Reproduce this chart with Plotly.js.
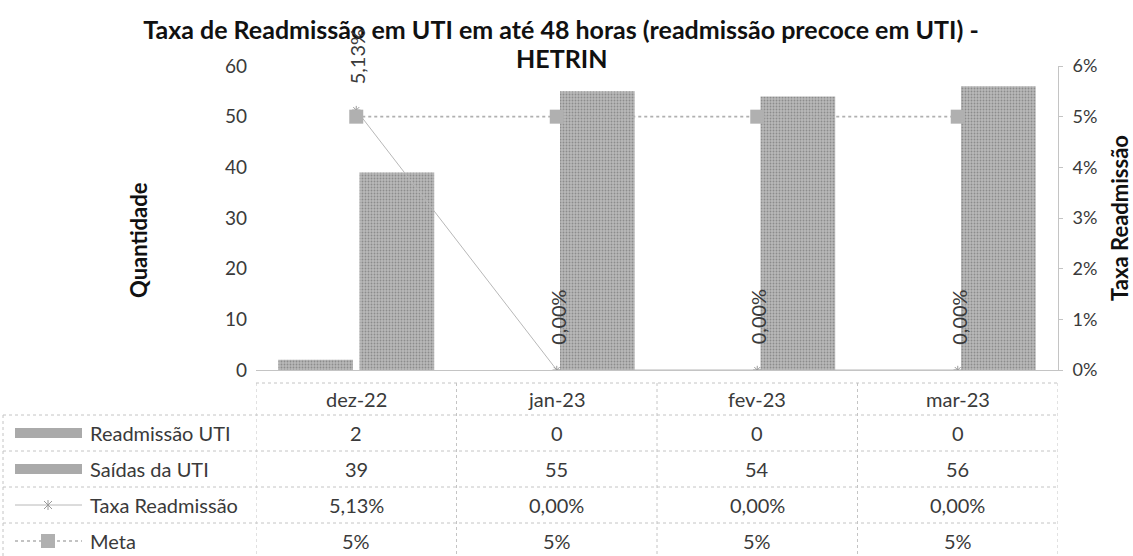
<!DOCTYPE html>
<html>
<head>
<meta charset="utf-8">
<script src="https://cdn.plot.ly/plotly-3.0.1.min.js"></script>
<style>
html,body{margin:0;padding:0;background:#fff;}
#chart{width:1133px;height:556px;}
</style>
</head>
<body>
<div id="chart"></div>
<script>
// ---- data ----
const categories = ['dez-22', 'jan-23', 'fev-23', 'mar-23'];
const readmissao = [2, 0, 0, 0];
const saidas = [39, 55, 54, 56];
const taxa = [0.0513, 0.0, 0.0, 0.0];
const meta = [0.05, 0.05, 0.05, 0.05];
const seriesNames = ['Readmissão UTI', 'Saídas da UTI', 'Taxa Readmissão', 'Meta'];
const leftTicks = [0, 10, 20, 30, 40, 50, 60];
const rightTicks = [0, 0.01, 0.02, 0.03, 0.04, 0.05, 0.06];
const rightTickText = ['0%', '1%', '2%', '3%', '4%', '5%', '6%'];
const titleLine1 = 'Taxa de Readmissão em UTI em até 48 horas (readmissão precoce em UTI) -';
const titleLine2 = 'HETRIN';
const leftTitle = 'Quantidade';
const rightTitle = 'Taxa Readmissão';

// ---- geometry helpers (layout only) ----
const W = 1133, H = 556;
const M = {l: 256, r: 75, t: 66, b: 186};
const PW = W - M.l - M.r, PH = H - M.t - M.b;
const px2x = p => (p - M.l) / PW;
const px2y = p => (H - M.b - p) / PH;

const FONT = 'Lato, "Open Sans", sans-serif';
const TXT = '#3a3a3a';
const GRIDC = '#c4c4c4';
const BARC = '#aaaaaa';

const pct2 = v => (v * 100).toFixed(2).replace('.', ',') + '%';
const pct0 = v => Math.round(v * 100) + '%';

const xs = categories.map((c, i) => i);

const barPattern = {shape: '.', fgcolor: '#8c8c8c', bgcolor: '#b9b9b9', size: 3, solidity: 0.3};

const traces = [
  {type: 'bar', name: seriesNames[0], x: xs, y: readmissao, yaxis: 'y',
   marker: {color: BARC, pattern: barPattern, line: {width: 0}}, hoverinfo: 'skip'},
  {type: 'bar', name: seriesNames[1], x: xs, y: saidas, yaxis: 'y',
   marker: {color: BARC, pattern: barPattern, line: {width: 0}}, hoverinfo: 'skip'},
  {type: 'scatter', mode: 'lines+markers', name: seriesNames[2], x: xs, y: taxa, yaxis: 'y2',
   line: {color: '#b8b8b8', width: 1}, marker: {symbol: 'asterisk-open', size: 7, color: '#9a9a9a', line: {color: '#9a9a9a', width: 1}},
   hoverinfo: 'skip'},
  {type: 'scatter', mode: 'lines+markers', name: seriesNames[3], x: xs, y: meta, yaxis: 'y2',
   line: {color: '#b0b0b0', width: 1.6, dash: 'dot'},
   marker: {symbol: 'square', size: 14, color: '#b0b0b0', line: {width: 0}},
   hoverinfo: 'skip'}
];

const annotations = [];
const shapes = [];

// data labels for Taxa (rotated)
taxa.forEach((v, i) => {
  annotations.push({x: i, y: v, xref: 'x', yref: 'y2', text: pct2(v), textangle: -90,
    showarrow: false, yshift: 53, xshift: 1, font: {family: FONT, size: 20, color: TXT}});
});

// ---- data table under chart ----
const rowTextY = [399, 433, 469, 505, 541];
const rowLineY = [415, 451, 487, 523];
const tableTop = 383, tableBottom = 556;
const cellFont = {family: FONT, size: 20, color: TXT};

categories.forEach((c, i) => {
  const cells = [c, String(readmissao[i]), String(saidas[i]), pct2(taxa[i]), pct0(meta[i])];
  cells.forEach((t, r) => {
    annotations.push({x: i, y: px2y(rowTextY[r]), xref: 'x', yref: 'paper', text: t, showarrow: false, font: cellFont, yanchor: 'middle'});
  });
});
seriesNames.forEach((n, k) => {
  annotations.push({x: px2x(88), y: px2y(rowTextY[k + 1]), xref: 'paper', yref: 'paper', text: n,
    showarrow: false, xanchor: 'left', yanchor: 'middle', font: cellFont});
});

const gridLine = {color: GRIDC, width: 1, dash: 'dot'};
for (let i = 0; i <= categories.length; i++) {
  shapes.push({type: 'line', xref: 'x', yref: 'paper', x0: i - 0.5, x1: i - 0.5,
    y0: px2y(tableTop), y1: px2y(tableBottom), line: gridLine});
}
shapes.push({type: 'line', xref: 'paper', yref: 'paper', x0: px2x(3), x1: px2x(3),
  y0: px2y(rowLineY[0]), y1: px2y(tableBottom), line: gridLine});
shapes.push({type: 'line', xref: 'paper', yref: 'paper', x0: 0, x1: 1, y0: px2y(tableTop), y1: px2y(tableTop), line: gridLine});
rowLineY.forEach(py => {
  shapes.push({type: 'line', xref: 'paper', yref: 'paper', x0: px2x(3), x1: 1, y0: px2y(py), y1: px2y(py), line: gridLine});
});

// legend keys in table
const keyX0 = 15, keyX1 = 82, keyC = 48;
[1, 2].forEach(r => {
  shapes.push({type: 'rect', xref: 'paper', yref: 'paper', x0: px2x(keyX0), x1: px2x(keyX1),
    y0: px2y(rowTextY[r] - 5), y1: px2y(rowTextY[r] + 5), fillcolor: BARC, line: {width: 0}});
});
const ty = rowTextY[3];
shapes.push({type: 'line', xref: 'paper', yref: 'paper', x0: px2x(keyX0), x1: px2x(keyX1), y0: px2y(ty), y1: px2y(ty), line: {color: '#b8b8b8', width: 1}});
const astPath = [
  `M ${px2x(keyC - 4)},${px2y(ty - 4)} L ${px2x(keyC + 4)},${px2y(ty + 4)}`,
  `M ${px2x(keyC - 4)},${px2y(ty + 4)} L ${px2x(keyC + 4)},${px2y(ty - 4)}`,
  `M ${px2x(keyC)},${px2y(ty - 5)} L ${px2x(keyC)},${px2y(ty + 5)}`
].join(' ');
shapes.push({type: 'path', xref: 'paper', yref: 'paper', path: astPath, line: {color: '#9a9a9a', width: 1}});
const my = rowTextY[4];
shapes.push({type: 'line', xref: 'paper', yref: 'paper', x0: px2x(keyX0), x1: px2x(keyX1), y0: px2y(my), y1: px2y(my), line: {color: '#b0b0b0', width: 1.6, dash: 'dot'}});
shapes.push({type: 'rect', xref: 'paper', yref: 'paper', x0: px2x(keyC - 7), x1: px2x(keyC + 7), y0: px2y(my - 7), y1: px2y(my + 7), fillcolor: '#b0b0b0', line: {width: 0}});

// second title line and left axis title
annotations.push({x: px2x(561), y: px2y(58), xref: 'paper', yref: 'paper', text: '<b>' + titleLine2 + '</b>', showarrow: false,
  xanchor: 'center', yanchor: 'middle', font: {family: FONT, size: 25, color: '#111'}});
annotations.push({x: px2x(138), y: px2y(240), xref: 'paper', yref: 'paper', text: '<b>' + leftTitle + '</b>', showarrow: false,
  textangle: -90, xanchor: 'center', yanchor: 'middle', font: {family: FONT, size: 22, color: '#111'}});

const layout = {
  width: W, height: H,
  margin: M,
  paper_bgcolor: '#fff', plot_bgcolor: '#fff',
  separators: ',.',
  showlegend: false,
  barmode: 'group', bargap: 0.19, bargroupgap: 0.08,
  font: {family: FONT, size: 18, color: TXT},
  title: {text: '<b>' + titleLine1 + '</b>',
    x: 561 / W, xanchor: 'center', xref: 'container', y: 1 - 30 / H, yanchor: 'middle', yref: 'container',
    font: {family: FONT, size: 25, color: '#111'}},
  xaxis: {type: 'linear', range: [-0.5, categories.length - 0.5], showticklabels: false, ticks: '',
    showgrid: false, zeroline: false, showline: true, linecolor: GRIDC, linewidth: 1},
  yaxis: {range: [0, 60], tickvals: leftTicks, showgrid: false, zeroline: false, showline: false, ticks: '',
    ticklabelstandoff: 8, tickfont: {family: FONT, size: 19, color: TXT}},
  yaxis2: {overlaying: 'y', side: 'right', range: [0, 0.06], tickvals: rightTicks, ticktext: rightTickText,
    showgrid: false, zeroline: false, showline: true, linecolor: GRIDC, linewidth: 1, ticks: 'outside', ticklen: 4, tickcolor: GRIDC,
    ticklabelstandoff: 6, tickfont: {family: FONT, size: 18, color: TXT},
    title: {text: '<b>' + rightTitle + '</b>', standoff: 18, font: {family: FONT, size: 22, color: '#111'}}},
  annotations: annotations,
  shapes: shapes
};

Plotly.newPlot('chart', traces, layout, {staticPlot: true, displayModeBar: false});
</script>
</body>
</html>
